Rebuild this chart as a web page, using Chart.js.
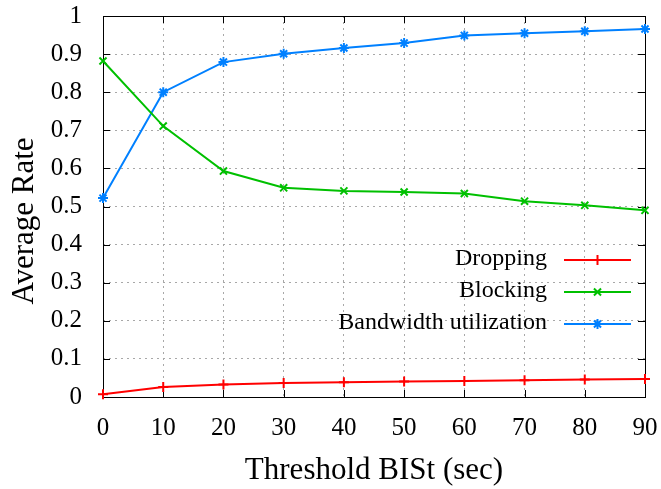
<!DOCTYPE html>
<html>
<head>
<meta charset="utf-8">
<script src="https://cdn.jsdelivr.net/npm/chart.js@4/dist/chart.umd.min.js"></script>
<style>
  html, body { margin: 0; padding: 0; background: #fff; }
  #wrap { width: 661px; height: 489px; }
</style>
</head>
<body>
<div id="wrap"><canvas id="rateChart" width="661" height="489"></canvas></div>
<script>
// threshold values (sec)
const thresholds = [0, 10, 20, 30, 40, 50, 60, 70, 80, 90];

// series
const dropping  = [0.007, 0.026, 0.033, 0.037, 0.039, 0.041, 0.042, 0.044, 0.046, 0.047];
const blocking  = [0.882, 0.711, 0.593, 0.549, 0.541, 0.538, 0.534, 0.514, 0.503, 0.490];
const bandwidth = [0.522, 0.800, 0.879, 0.901, 0.916, 0.929, 0.949, 0.955, 0.960, 0.966];

const seriesNames = ['Dropping', 'Blocking', 'Bandwidth utilization'];

// tick labels
const xTickLabels = ['0', '10', '20', '30', '40', '50', '60', '70', '80', '90'];
const yTickLabels = ['0', '0.1', '0.2', '0.3', '0.4', '0.5', '0.6', '0.7', '0.8', '0.9', '1'];

const yTitle = 'Average Rate';

const serif = "'Liberation Serif', 'Times New Roman', serif";

function toPoints(values) {
    return thresholds.map((t, i) => ({ x: t, y: values[i] }));
}

function makeDataset(label, values, color, style) {
    return {
        label: label,
        data: toPoints(values),
        borderColor: color,
        backgroundColor: color,
        borderWidth: 2,
        pointStyle: style,
        pointRadius: 5,
        pointBorderWidth: 2,
        pointHoverRadius: 5,
        tension: 0,
        clip: false
    };
}

// frame with inward ticks on all four sides, like gnuplot
const framePlugin = {
    id: 'frame',
    beforeDatasetsDraw(chart) {
        const { ctx, chartArea: a, scales } = chart;
        ctx.save();
        ctx.strokeStyle = '#000';
        ctx.lineWidth = 1;
        ctx.beginPath();
        const tick = 7;
        scales.x.ticks.forEach(t => {
            const px = Math.round(scales.x.getPixelForValue(t.value)) + 0.5;
            ctx.moveTo(px, a.bottom); ctx.lineTo(px, a.bottom - tick);
            ctx.moveTo(px, a.top); ctx.lineTo(px, a.top + tick);
        });
        scales.y.ticks.forEach(t => {
            const py = Math.round(scales.y.getPixelForValue(t.value)) + 0.5;
            ctx.moveTo(a.left, py); ctx.lineTo(a.left + tick, py);
            ctx.moveTo(a.right, py); ctx.lineTo(a.right - tick, py);
        });
        ctx.stroke();
        ctx.strokeRect(Math.round(a.left) + 0.5, Math.round(a.top) + 0.5,
                       Math.round(a.right - a.left), Math.round(a.bottom - a.top));

        // y axis title, sits a bit below the middle of the axis in the original
        ctx.translate(25, 221);
        ctx.rotate(-Math.PI / 2);
        ctx.font = '31px ' + serif;
        ctx.fillStyle = '#000';
        ctx.textAlign = 'center';
        ctx.textBaseline = 'middle';
        ctx.fillText(yTitle, 0, 0);
        ctx.restore();
    }
};

// key inside the plot: text right-aligned, sample line to its right
const keyPlugin = {
    id: 'key',
    afterDatasetsDraw(chart) {
        const { ctx } = chart;
        const textRight = 547, lineStart = 564, lineEnd = 631;
        const rowY = [260, 292, 324];
        ctx.save();
        chart.data.datasets.forEach((ds, i) => {
            const y = rowY[i];
            ctx.font = '24px ' + serif;
            ctx.fillStyle = '#000';
            ctx.textAlign = 'right';
            ctx.textBaseline = 'middle';
            ctx.fillText(ds.label, textRight, y - 1);
            ctx.strokeStyle = ds.borderColor;
            ctx.lineWidth = 2;
            ctx.beginPath();
            ctx.moveTo(lineStart, y); ctx.lineTo(lineEnd, y);
            ctx.stroke();
            Chart.helpers.drawPoint(ctx, {
                pointStyle: ds.pointStyle, radius: 5, rotation: 0, borderWidth: 2
            }, (lineStart + lineEnd) / 2, y);
        });
        ctx.restore();
    }
};

const ctx = document.getElementById('rateChart').getContext('2d');
new Chart(ctx, {
    type: 'line',
    data: {
        datasets: [
            makeDataset(seriesNames[0], dropping, '#ff0000', 'cross'),
            makeDataset(seriesNames[1], blocking, '#00c000', 'crossRot'),
            makeDataset(seriesNames[2], bandwidth, '#0080ff', 'star')
        ]
    },
    options: {
        responsive: false,
        animation: false,
        layout: { autoPadding: false, padding: { left: 0, right: 16, top: 16, bottom: 0 } },
        plugins: {
            legend: { display: false },
            tooltip: { enabled: false }
        },
        scales: {
            x: {
                type: 'linear',
                min: 0,
                max: 90,
                afterFit: s => {
                    s.height = 92;
                    s.paddingLeft = 0;
                    s.paddingRight = 0;
                },
                ticks: {
                    stepSize: 10,
                    padding: 16,
                    color: '#000',
                    font: { family: serif, size: 25 },
                    maxRotation: 0,
                    callback: v => xTickLabels[Math.round(v / 10)]
                },
                grid: { color: '#a8a8a8', lineWidth: 1, drawTicks: false },
                border: { display: false, dash: [2, 4] },
                title: {
                    display: true,
                    text: 'Threshold BISt (sec)',
                    color: '#000',
                    font: { family: serif, size: 31 },
                    padding: { top: 0, bottom: 0 }
                }
            },
            y: {
                type: 'linear',
                min: 0,
                max: 1,
                afterFit: s => {
                    s.width = 103;
                    s.paddingTop = 0;
                    s.paddingBottom = 0;
                },
                ticks: {
                    stepSize: 0.1,
                    padding: 21,
                    color: '#000',
                    font: { family: serif, size: 25 },
                    callback: v => yTickLabels[Math.round(v * 10)]
                },
                grid: { color: '#a8a8a8', lineWidth: 1, drawTicks: false },
                border: { display: false, dash: [2, 4] }
            }
        }
    },
    plugins: [framePlugin, keyPlugin]
});
</script>
</body>
</html>
